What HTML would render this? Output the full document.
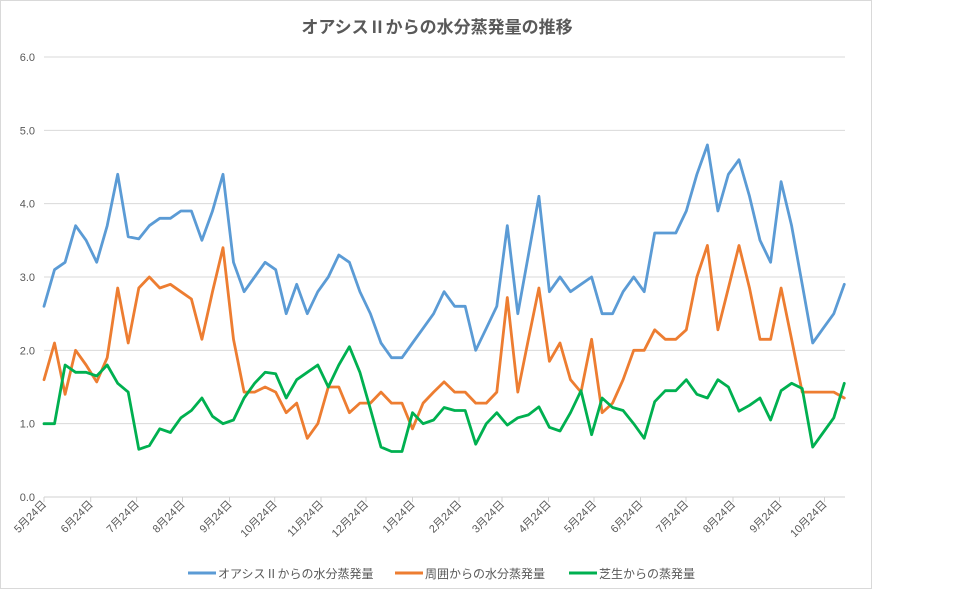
<!DOCTYPE html>
<html><head><meta charset="utf-8"><style>
body{margin:0;background:#fff;width:958px;height:593px;overflow:hidden}
svg text{font-family:"Liberation Sans","Noto Sans CJK JP",sans-serif}
</style></head><body>
<svg id="s" width="958" height="593" xmlns="http://www.w3.org/2000/svg">
<rect x="0.5" y="0.5" width="871" height="588" fill="#fff" stroke="#d9d9d9"/>
<text x="437" y="33" text-anchor="middle" font-size="17" font-weight="bold" fill="#595959">オアシスⅡからの水分蒸発量の推移</text>
<g id="g"></g>
<g font-size="12" fill="#595959">
<line x1="188" y1="573" x2="216" y2="573" stroke="#5b9bd5" stroke-width="3"/><text x="218" y="578">オアシスⅡからの水分蒸発量</text>
<line x1="395" y1="573" x2="423" y2="573" stroke="#ed7d31" stroke-width="3"/><text x="425" y="578">周囲からの水分蒸発量</text>
<line x1="569" y1="573" x2="597" y2="573" stroke="#00b050" stroke-width="3"/><text x="599" y="578">芝生からの蒸発量</text>
</g>
</svg>
<script>
var B=[2.6,3.1,3.2,3.7,3.5,3.2,3.7,4.4,3.55,3.52,3.7,3.8,3.8,3.9,3.9,3.5,3.9,4.4,3.2,2.8,3.0,3.2,3.1,2.5,2.9,2.5,2.8,3.0,3.3,3.2,2.8,2.5,2.1,1.9,1.9,2.1,2.3,2.5,2.8,2.6,2.6,2.0,2.3,2.6,3.7,2.5,3.3,4.1,2.8,3.0,2.8,2.9,3.0,2.5,2.5,2.8,3.0,2.8,3.6,3.6,3.6,3.9,4.4,4.8,3.9,4.4,4.6,4.1,3.5,3.2,4.3,3.7,2.9,2.1,2.3,2.5,2.9];
var O=[1.6,2.1,1.4,2.0,1.8,1.57,1.9,2.85,2.1,2.85,3.0,2.85,2.9,2.8,2.7,2.15,2.8,3.4,2.15,1.43,1.43,1.5,1.43,1.15,1.28,0.8,1.0,1.5,1.5,1.15,1.28,1.28,1.43,1.28,1.28,0.93,1.28,1.43,1.57,1.43,1.43,1.28,1.28,1.43,2.72,1.43,2.15,2.85,1.85,2.1,1.6,1.43,2.15,1.15,1.28,1.6,2.0,2.0,2.28,2.15,2.15,2.28,3.0,3.43,2.28,2.85,3.43,2.85,2.15,2.15,2.85,2.15,1.43,1.43,1.43,1.43,1.35];
var G=[1.0,1.0,1.8,1.7,1.7,1.65,1.8,1.55,1.43,0.65,0.7,0.93,0.88,1.08,1.18,1.35,1.1,1.0,1.05,1.35,1.55,1.7,1.68,1.35,1.6,1.7,1.8,1.5,1.8,2.05,1.7,1.2,0.68,0.62,0.62,1.15,1.0,1.05,1.22,1.18,1.18,0.72,1.0,1.15,0.98,1.08,1.12,1.23,0.95,0.9,1.15,1.45,0.85,1.35,1.22,1.18,1.0,0.8,1.3,1.45,1.45,1.6,1.4,1.35,1.6,1.5,1.17,1.25,1.35,1.05,1.45,1.55,1.48,0.68,0.88,1.08,1.55];
var h='',Y=function(v){return 497-v*73.33},X=function(i){return 44+i*10.53};
for(var k=0;k<=6;k++){var y=Y(k);h+='<line x1="44" x2="845" y1="'+y+'" y2="'+y+'" stroke="'+(k?'#d9d9d9':'#d0d0d0')+'"/>';
h+='<text x="35" y="'+(y+4)+'" text-anchor="end" font-size="11" fill="#595959">'+k.toFixed(1)+'</text>';}
var m=[5,6,7,8,9,10,11,12,1,2,3,4,5,6,7,8,9,10];
var tx=[44,90.7,136.6,182.5,229.5,274.7,321,366,412.5,459,502,548.5,594,640.5,686,733,779.5,824.5];
for(var j=0;j<m.length;j++){h+='<line x1="'+tx[j]+'" x2="'+tx[j]+'" y1="497" y2="502" stroke="#d0d0d0"/>';
h+='<text transform="translate('+(tx[j]+3)+',505) rotate(-45)" text-anchor="end" font-size="11" fill="#595959">'+m[j]+'月24日</text>';}
function P(a,c){var p=a.map(function(v,i){return X(i).toFixed(1)+','+Y(v).toFixed(1)}).join(' ');
return '<polyline points="'+p+'" fill="none" stroke="'+c+'" stroke-width="2.8" stroke-linejoin="round" stroke-linecap="round"/>';}
h+=P(B,'#5b9bd5')+P(O,'#ed7d31')+P(G,'#00b050');
document.getElementById('g').innerHTML=h;
</script>
</body></html>
